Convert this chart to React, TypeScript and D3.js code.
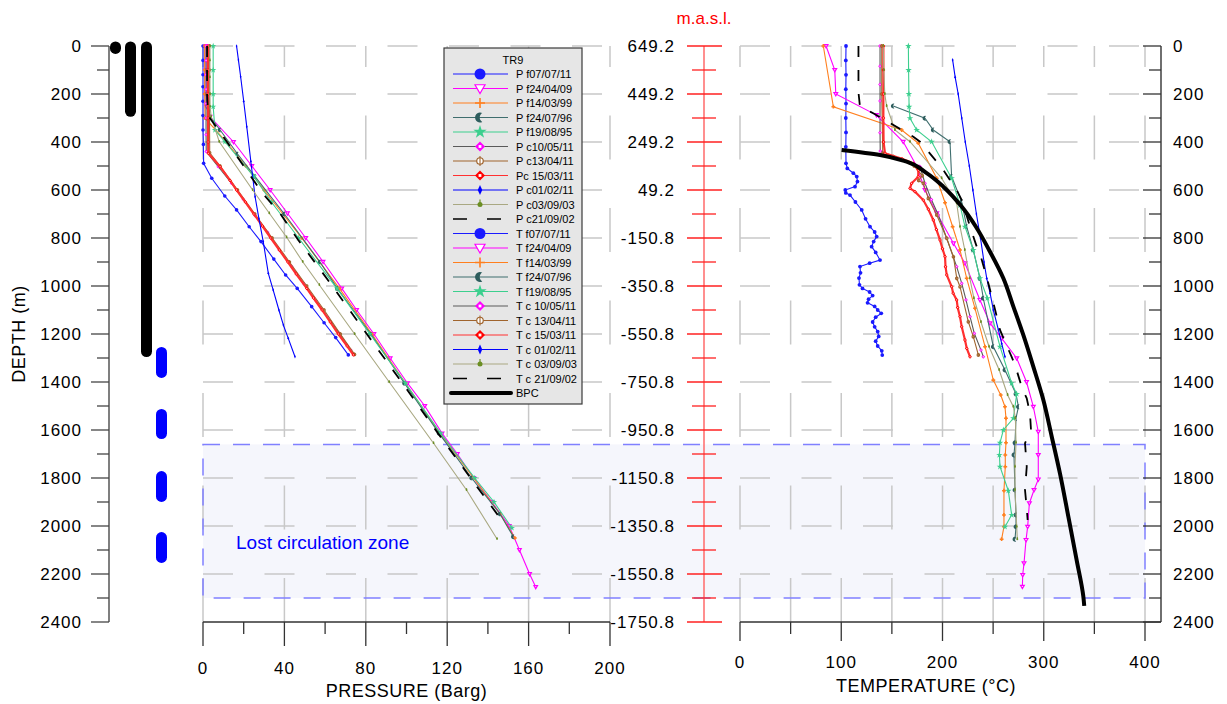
import React from 'react';
import * as d3 from 'd3';

type Pt = [number, number]; // [depth m, value]

// ---------- axes / ticks ----------
const depthTicks = [0, 200, 400, 600, 800, 1000, 1200, 1400, 1600, 1800, 2000, 2200, 2400];
const depthMinor = [100, 300, 500, 700, 900, 1100, 1300, 1500, 1700, 1900, 2100, 2300];
const elevLabels = ['649.2', '449.2', '249.2', '49.2', '-150.8', '-350.8', '-550.8', '-750.8', '-950.8', '-1150.8', '-1350.8', '-1550.8', '-1750.8'];
const pressureTicks = [0, 40, 80, 120, 160, 200];
const pressureMinor = [20, 60, 100, 140, 180];
const tempTicks = [0, 100, 200, 300, 400];
const tempMinor = [50, 150, 250, 350];
const tempGrid = [0, 50, 100, 150, 200, 250, 300, 350, 400];
const gridDepths = [0, 200, 400, 600, 800, 1000, 1200, 1400, 1600, 1800, 2000, 2200];

// ---------- well schematic ----------
const casingConductor: Pt = [0, 6];
const casingSurface: Pt = [0, 272];
const casingProduction: Pt = [0, 1273];
const linerSegments: Pt[] = [[1277, 1360], [1535, 1615], [1794, 1877], [2048, 2131]];
const lostZone: Pt = [1660, 2300];

// ---------- pressure profiles (depth, bar g) ----------
const pF070711: Pt[] = [[0, 0], [60, 0], [120, 0], [170, 0], [230, 0], [290, 0], [350, 0], [410, 0.2], [489, 0.3], [551, 4.3], [625, 10.7], [683, 16.5], [753, 22.7], [815, 28.5], [888, 34.8], [954, 40.6], [1010, 46.3], [1086, 53.4], [1153, 59.5], [1215, 65.2], [1287, 71.4]];
const pF240409: Pt[] = [[0, 1.5], [100, 1.5], [200, 1.6], [253, 1.8], [295, 3.5], [400, 15], [500, 24], [600, 33], [697, 41.5], [800, 50.5], [899, 59], [1010, 68.2], [1100, 75.5], [1200, 84], [1301, 92], [1405, 100.5], [1500, 109], [1614, 117.5], [1700, 125], [1800, 133], [1900, 142], [2000, 150.5], [2100, 155.5], [2200, 160.5], [2254, 163.5]];
const pF140399: Pt[] = [[0, 0.8], [100, 0.8], [200, 0.8], [301, 1], [400, 11.5], [500, 21], [600, 30], [800, 48.5], [1010, 67], [1200, 83], [1405, 99.5], [1614, 116.5], [1800, 133], [1950, 146], [2050, 153.3]];
const pF240796: Pt[] = [[294, 3.4], [350, 8.4], [450, 17], [544, 25.6], [700, 40], [900, 57.5], [1010, 66], [1200, 82.5], [1405, 99], [1614, 116], [1800, 132], [1950, 146], [2045, 152.5]];
const pF190895: Pt[] = [[0, 5], [100, 5], [200, 5], [253, 5], [350, 5.9], [399, 10.8], [544, 25], [651, 33.7], [800, 47], [1010, 65.8], [1200, 82], [1405, 99.5], [1614, 116.8], [1800, 133.5], [1900, 143], [2008, 151.8]];
const pC100511: Pt[] = [[0, 1.5], [60, 1.5], [120, 1.5], [180, 1.5], [240, 1.5], [300, 1.5], [370, 1.5], [440, 1.6], [503, 7.5], [572, 14], [639, 19.8], [707, 25.6], [776, 31.8], [850, 37.5], [919, 43.6], [990, 49.5], [1061, 55.5], [1130, 61.3], [1197, 67], [1267, 72.6], [1285, 74]];
const pC130411: Pt[] = [[0, 3.2], [100, 3.2], [200, 3.2], [300, 3.2], [445, 3.3], [500, 8.4], [600, 17], [700, 25.5], [800, 34], [900, 42.5], [1000, 51], [1100, 59.5], [1200, 67.5], [1285, 74.5]];
const pC150311: Pt[] = [[0, 2.5], [100, 2.5], [200, 2.5], [300, 2.5], [400, 2.5], [447, 2.6], [503, 8.4], [560, 13.3], [600, 16.5], [650, 20.8], [700, 25], [750, 29.2], [800, 33.3], [850, 37.5], [900, 41.7], [950, 45.8], [1010, 51], [1050, 54.3], [1100, 58.5], [1150, 62.5], [1200, 66.5], [1250, 70.8], [1287, 73.9]];
const pC010211: Pt[] = [[0, 16.5], [58, 17.4], [128, 18.5], [230, 20], [336, 21.5], [480, 23.5], [628, 25.6], [720, 27.5], [815, 29.6], [947, 32.1], [1017, 34.5], [1100, 37.3], [1163, 39.5], [1218, 41.9], [1295, 45.2]];
const pC030903: Pt[] = [[0, 3.4], [60, 3.4], [130, 3.4], [200, 3.4], [253, 3.5], [294, 4], [399, 8], [600, 24.4], [697, 32.6], [797, 41.1], [899, 49], [996, 57.2], [1200, 74.5], [1400, 91.5], [1655, 113.3], [1850, 129.5], [2054, 144.5]];
const pC210902: Pt[] = [[0, 2], [100, 2], [200, 2], [290, 2.5], [378, 10], [614, 29.3], [697, 37.8], [808, 46.8], [912, 55.9], [996, 63.2], [1200, 80.5], [1405, 98], [1614, 115.5], [1800, 131.5], [1990, 148]];

// ---------- temperature profiles (depth, degC) ----------
const tF070711: Pt[] = [[0, 104.7], [60, 104.5], [120, 104.7], [180, 104.5], [240, 104.7], [300, 104.5], [360, 104.7], [420, 104.5], [489, 104.7], [510, 106], [530, 112], [544, 115.3], [565, 116], [586, 113.6], [600, 104], [612, 104.5], [621, 108.6], [650, 114], [683, 120.2], [720, 124], [753, 128.4], [775, 133], [794, 135], [815, 132], [836, 130], [860, 134], [892, 138.3], [905, 128], [919, 118.5], [945, 119], [967, 117.5], [995, 118], [1010, 121], [1025, 128], [1040, 131], [1055, 127], [1070, 126], [1085, 133], [1100, 136], [1114, 139.5], [1130, 134], [1150, 131], [1170, 133], [1190, 136], [1210, 137], [1230, 134], [1250, 136], [1270, 140], [1288, 140.5]];
const tF240409: Pt[] = [[0, 85], [100, 93.6], [200, 94.6], [288, 134.8], [399, 161.2], [503, 174.8], [600, 182.7], [697, 194.3], [822, 210.8], [905, 222.2], [1058, 237], [1155, 246.9], [1218, 258.5], [1301, 273.3], [1400, 283], [1503, 289.7], [1607, 294.6], [1704, 294.6], [1806, 294.6], [1850, 290.4], [1905, 285.8], [2003, 284.1], [2058, 282.5], [2155, 280.5], [2204, 279.2], [2253, 278.9]];
const tF140399: Pt[] = [[0, 82.3], [253, 92.2], [350, 159.7], [405, 176.1], [551, 194.3], [653, 202.5], [753, 210], [850, 217.3], [968, 223.9], [1093, 232.1], [1253, 242], [1392, 250.2], [1454, 257.5], [1503, 261.7], [1551, 262.7], [1653, 262.7], [1704, 262], [1753, 262], [1853, 260.7], [1954, 260.7], [2003, 260.7], [2055, 258.4]];
const tF240796: Pt[] = [[250, 151.4], [301, 182.7], [350, 190.9], [399, 207.4], [544, 209], [649, 218.9], [753, 223.9], [850, 230.4], [968, 237], [1051, 240.3], [1253, 250.2], [1350, 261.7], [1450, 272.6], [1503, 275], [1551, 272.6], [1653, 271.6], [1704, 270.6], [1850, 271.6], [1954, 272.6], [2003, 272.6], [2055, 271.6]];
const tF190895: Pt[] = [[0, 166.3], [100, 166.5], [200, 166.8], [253, 167], [301, 167.9], [350, 174.5], [399, 189.3], [551, 209], [663, 217.3], [753, 222.2], [850, 230.4], [968, 237], [1051, 244.3], [1253, 256.8], [1405, 268.3], [1450, 273.3], [1551, 270], [1600, 260.1], [1653, 256.8], [1704, 256.2], [1753, 256.8], [1853, 265], [1954, 268.3], [2003, 261.7]];
const tC100511: Pt[] = [[0, 138.3], [84, 138.3], [160, 138.3], [229, 138.3], [299, 138.3], [361, 138.3], [438, 138.5], [503, 177.8], [572, 182.7], [640, 189], [704, 195.9], [800, 204], [919, 214], [989, 219], [1058, 223.2], [1128, 227.2], [1197, 231.4], [1267, 238], [1295, 240.3]];
const tC130411: Pt[] = [[0, 140], [200, 140], [447, 141], [461, 151.4], [500, 172], [540, 180], [560, 176.5], [572, 181], [635, 186], [704, 194.3], [801, 204.2], [878, 210.8], [968, 214.1], [1003, 217.3], [1149, 225.5], [1211, 230.4], [1287, 235.4]];
const tC150311: Pt[] = [[0, 141.6], [100, 141.6], [200, 141.6], [300, 141.6], [400, 141.8], [447, 143.2], [470, 160], [489, 171.2], [517, 176.1], [545, 176], [572, 169.5], [593, 167.9], [607, 172.8], [642, 181], [680, 186], [725, 190.9], [765, 194], [808, 197.5], [845, 200], [878, 202.5], [920, 203], [954, 204.2], [1003, 209.1], [1030, 210.5], [1058, 214], [1090, 215], [1128, 217.3], [1170, 219], [1225, 222.2], [1260, 224], [1295, 227.2]];
const tC010211: Pt[] = [[58, 210], [130, 212.5], [200, 215.5], [300, 219], [400, 222.5], [500, 226.5], [600, 230], [700, 233.5], [800, 237.5], [900, 241], [968, 243.7], [1030, 247], [1100, 250.2], [1183, 255.2], [1240, 258.5], [1295, 261.7]];
const tC030903: Pt[] = [[0, 141.5], [100, 142], [200, 143], [250, 144.8], [350, 153], [399, 167.9], [551, 199.2], [655, 214], [753, 217.3], [850, 222], [968, 227], [1051, 231], [1150, 238], [1253, 246], [1350, 256], [1454, 264.3], [1503, 270], [1551, 272], [1653, 272.6], [1753, 271.6], [1850, 271.6], [2003, 273.3], [2055, 273.9]];
const tC210902: Pt[] = [[0, 117], [100, 117], [193, 117], [253, 118.5], [280, 131.6], [378, 171.2], [399, 177.8], [482, 194.3], [517, 200.8], [600, 214], [642, 219], [750, 227], [836, 233.8], [864, 237], [1000, 246], [1100, 252], [1183, 256.8], [1232, 261.7], [1295, 268.3], [1329, 271.6], [1433, 279.2], [1468, 283.2], [1530, 286.4], [1600, 287.4], [1655, 281.5], [1753, 283.2], [1850, 281.5], [1926, 283.2], [1975, 284.1]];
const bpc: Pt[] = [[433, 100.4], [454, 138.3], [482, 164.6], [530, 184.4], [586, 200.8], [669, 218.9], [753, 233], [850, 246], [968, 260.1], [1086, 270], [1204, 279.8], [1336, 289.7], [1475, 299.6], [1628, 307.9], [1781, 316], [1961, 324.3], [2142, 332.5], [2294, 339.1], [2333, 340]];

const legendLabels = ['P f07/07/11', 'P f24/04/09', 'P f14/03/99', 'P f24/07/96', 'P f19/08/95', 'P c10/05/11', 'P c13/04/11', 'Pc 15/03/11', 'P c01/02/11', 'P c03/09/03', 'P c21/09/02',
  'T f07/07/11', 'T f24/04/09', 'T f14/03/99', 'T f24/07/96', 'T f19/08/95', 'T c 10/05/11', 'T c 13/04/11', 'T c 15/03/11', 'T c 01/02/11', 'T c 03/09/03', 'T c 21/09/02', 'BPC'];

// ---------- styles ----------
type Style = { color: string; mcolor?: string; marker: string; width?: number; dash?: string };
const runStyles: Style[] = [
  { color: '#1a1aff', marker: 'circle' },
  { color: '#ff00ff', marker: 'triDown' },
  { color: '#ff7f1e', marker: 'plus' },
  { color: '#3f6e6e', mcolor: '#2e5d5d', marker: 'crescent' },
  { color: '#3ccf8e', marker: 'star' },
  { color: '#5a5a5a', mcolor: '#ff00ff', marker: 'diamondHollow' },
  { color: '#a0642d', marker: 'circleCross' },
  { color: '#ff3030', mcolor: '#ff0000', marker: 'diamondHollow', width: 2.2 },
  { color: '#0000ff', marker: 'thinDiamond' },
  { color: '#a9a882', mcolor: '#6b8e23', marker: 'dotTick' },
  { color: '#000000', marker: 'none', width: 1.8, dash: '11,13' },
];
const pressureRuns = [pF070711, pF240409, pF140399, pF240796, pF190895, pC100511, pC130411, pC150311, pC010211, pC030903, pC210902];
const tempRuns = [tF070711, tF240409, tF140399, tF240796, tF190895, tC100511, tC130411, tC150311, tC010211, tC030903, tC210902];

const yD = d3.scaleLinear().domain([0, 2400]).range([46, 622]);
const xP = d3.scaleLinear().domain([0, 200]).range([203, 610]);
const xT = d3.scaleLinear().domain([0, 400]).range([740, 1145]);

const FONT = "'Liberation Sans', Arial, sans-serif";

function Marker({ type, x, y, s, color }: { type: string; x: number; y: number; s: number; color: string }) {
  switch (type) {
    case 'circle':
      return <circle cx={x} cy={y} r={s} fill={color} />;
    case 'triDown':
      return <path d={`M${x - s},${y - s * 0.75}L${x + s},${y - s * 0.75}L${x},${y + s}Z`} fill="#fff" stroke={color} strokeWidth={1.2} />;
    case 'plus':
      return <path d={`M${x - s},${y}H${x + s}M${x},${y - s}V${y + s}`} stroke={color} strokeWidth={1.6} />;
    case 'crescent':
      return <path d={`M${x + s * 0.45},${y - s * 0.9}A${s},${s} 0 1 0 ${x + s * 0.45},${y + s * 0.9}A${s * 1.05},${s * 1.05} 0 0 1 ${x + s * 0.45},${y - s * 0.9}Z`} fill={color} />;
    case 'star':
      return <path transform={`translate(${x},${y})`} d={d3.symbol(d3.symbolStar, s * s * 2.2)() || ''} fill={color} />;
    case 'diamondHollow':
      return (
        <g>
          <path d={`M${x},${y - s}L${x + s},${y}L${x},${y + s}L${x - s},${y}Z`} fill={color} />
          <rect x={x - s * 0.28} y={y - s * 0.28} width={s * 0.56} height={s * 0.56} fill="#fff" />
        </g>
      );
    case 'circleCross':
      return (
        <g>
          <circle cx={x} cy={y} r={s * 0.65} fill="#fff" stroke={color} strokeWidth={1.2} />
          <path d={`M${x},${y - s}V${y + s}`} stroke={color} strokeWidth={1.1} />
        </g>
      );
    case 'thinDiamond':
      return <path d={`M${x},${y - s}L${x + s * 0.45},${y}L${x},${y + s}L${x - s * 0.45},${y}Z`} fill={color} />;
    case 'dotTick':
      return (
        <g>
          <path d={`M${x},${y - s}V${y}`} stroke={color} strokeWidth={1.2} />
          <circle cx={x} cy={y} r={s * 0.5} fill={color} />
        </g>
      );
    default:
      return null;
  }
}

function Profile({ data, xs, st, ms }: { data: Pt[]; xs: d3.ScaleLinear<number, number>; st: Style; ms: number }) {
  const line = d3.line<Pt>().x((d) => xs(d[1])).y((d) => yD(d[0]));
  return (
    <g>
      <path d={line(data) || ''} fill="none" stroke={st.color} strokeWidth={st.width || 1.1} strokeDasharray={st.dash} />
      {st.marker !== 'none' && data.map((d, i) => (
        <Marker key={i} type={st.marker} x={xs(d[1])} y={yD(d[0])} s={st.marker === 'star' || st.marker === 'crescent' ? ms * 1.3 : ms} color={st.mcolor || st.color} />
      ))}
    </g>
  );
}

function Grid({ xs, vals, x0, x1 }: { xs: d3.ScaleLinear<number, number>; vals: number[]; x0: number; x1: number }) {
  return (
    <g stroke="#c8c8c8" strokeWidth={1.5}>
      {vals.map((v) => (
        <line key={'v' + v} x1={xs(v)} x2={xs(v)} y1={yD(2400)} y2={yD(0)} strokeDasharray="44,48.5" />
      ))}
      {gridDepths.map((d) => (
        <line key={'h' + d} x1={x0} x2={x1} y1={yD(d)} y2={yD(d)} strokeDasharray="30,31.5" />
      ))}
    </g>
  );
}

export default function App() {
  const lx0 = 444, ly0 = 48, lw = 138, lh = 356;
  const rowY = (i: number) => 74 + i * 14.5;
  const bpcLine = d3.line<Pt>().x((d) => xT(d[1])).y((d) => yD(d[0])).curve(d3.curveMonotoneY);
  const labelStyle = { fontFamily: FONT, fontSize: 17, letterSpacing: 1 } as React.CSSProperties;
  const titleStyle = { fontFamily: FONT, fontSize: 18, letterSpacing: 0.5 } as React.CSSProperties;

  return (
    <svg width={1227} height={704} style={{ position: 'absolute', left: 0, top: 0, background: '#fff' }}>
      {/* lost circulation zone fill */}
      <rect x={xP(0)} y={yD(lostZone[0])} width={xT(400) - xP(0)} height={yD(lostZone[1]) - yD(lostZone[0])} fill="#f5f6fc" />

      <Grid xs={xP} vals={pressureTicks} x0={xP(0)} x1={xP(200)} />
      <Grid xs={xT} vals={tempGrid} x0={xT(0)} x1={xT(400)} />

      <rect x={xP(0)} y={yD(lostZone[0])} width={xT(400) - xP(0)} height={yD(lostZone[1]) - yD(lostZone[0])} fill="none" stroke="#8080ff" strokeWidth={1.5} strokeDasharray="17,13" />
      <text x={236} y={542} fill="#0000ff" dominantBaseline="central" style={{ fontFamily: FONT, fontSize: 19 }}>Lost circulation zone</text>

      {/* left depth axis */}
      <line x1={109} x2={109} y1={yD(0)} y2={yD(2400)} stroke="#555" strokeWidth={1.5} />
      {depthTicks.map((d) => (
        <g key={'ld' + d}>
          <line x1={91} x2={109} y1={yD(d)} y2={yD(d)} stroke="#444" strokeWidth={1.3} />
          <text x={82} y={yD(d)} textAnchor="end" dominantBaseline="central" style={labelStyle}>{d}</text>
        </g>
      ))}
      {depthMinor.map((d) => (
        <line key={'lm' + d} x1={97} x2={109} y1={yD(d)} y2={yD(d)} stroke="#444" strokeWidth={1.3} />
      ))}
      <text transform={`translate(19,334) rotate(-90)`} textAnchor="middle" dominantBaseline="central" style={titleStyle}>DEPTH (m)</text>

      {/* well schematic */}
      <g stroke="#000" strokeWidth={11} strokeLinecap="round">
        <line x1={115.5} x2={115.5} y1={yD(casingConductor[0]) + 1} y2={yD(casingConductor[1]) + 1} />
        <line x1={130.5} x2={130.5} y1={yD(casingSurface[0]) + 1} y2={yD(casingSurface[1])} />
        <line x1={146.5} x2={146.5} y1={yD(casingProduction[0]) + 1} y2={yD(casingProduction[1])} />
      </g>
      <g stroke="#0000ff" strokeWidth={11} strokeLinecap="round">
        {linerSegments.map((s, i) => (
          <line key={i} x1={161.5} x2={161.5} y1={yD(s[0])} y2={yD(s[1])} />
        ))}
      </g>

      {/* pressure bottom axis */}
      <line x1={xP(0)} x2={xP(200)} y1={622} y2={622} stroke="#333" strokeWidth={1.3} />
      {pressureTicks.map((p) => (
        <g key={'pt' + p}>
          <line x1={xP(p)} x2={xP(p)} y1={622} y2={646} stroke="#333" strokeWidth={1.3} />
          <text x={xP(p)} y={668} textAnchor="middle" dominantBaseline="central" style={labelStyle}>{p}</text>
        </g>
      ))}
      {pressureMinor.map((p) => (
        <line key={'pm' + p} x1={xP(p)} x2={xP(p)} y1={622} y2={634} stroke="#333" strokeWidth={1.3} />
      ))}
      <text x={xP(100)} y={691} textAnchor="middle" dominantBaseline="central" style={titleStyle}>PRESSURE (Barg)</text>

      {/* elevation axis */}
      <line x1={704} x2={704} y1={yD(0)} y2={yD(2400)} stroke="#ff6a6a" strokeWidth={1.5} />
      {depthTicks.map((d, i) => (
        <g key={'el' + d}>
          <line x1={687} x2={722} y1={yD(d)} y2={yD(d)} stroke="#ff2020" strokeWidth={1.3} />
          <text x={675} y={yD(d)} textAnchor="end" dominantBaseline="central" style={labelStyle}>{elevLabels[i]}</text>
        </g>
      ))}
      {depthMinor.map((d) => (
        <line key={'em' + d} x1={692} x2={716} y1={yD(d)} y2={yD(d)} stroke="#ff2020" strokeWidth={1.3} />
      ))}
      <text x={704} y={18} textAnchor="middle" dominantBaseline="central" fill="#ff0000" style={{ fontFamily: FONT, fontSize: 17 }}>m.a.s.l.</text>

      {/* temperature axes */}
      <line x1={xT(0)} x2={1161} y1={622} y2={622} stroke="#333" strokeWidth={1.3} />
      <line x1={1161} x2={1161} y1={yD(0)} y2={622} stroke="#222" strokeWidth={1.3} />
      {tempTicks.map((t) => (
        <g key={'tt' + t}>
          <line x1={xT(t)} x2={xT(t)} y1={622} y2={641} stroke="#333" strokeWidth={1.3} />
          <text x={xT(t)} y={662} textAnchor="middle" dominantBaseline="central" style={labelStyle}>{t}</text>
        </g>
      ))}
      {tempMinor.map((t) => (
        <line key={'tm' + t} x1={xT(t)} x2={xT(t)} y1={622} y2={634} stroke="#333" strokeWidth={1.3} />
      ))}
      <text x={926} y={686} textAnchor="middle" dominantBaseline="central" style={titleStyle}>TEMPERATURE (°C)</text>
      {depthTicks.map((d) => (
        <g key={'rd' + d}>
          <line x1={1143} x2={1161} y1={yD(d)} y2={yD(d)} stroke="#333" strokeWidth={1.3} />
          <text x={1173} y={yD(d)} dominantBaseline="central" style={labelStyle}>{d}</text>
        </g>
      ))}
      {depthMinor.map((d) => (
        <line key={'rm' + d} x1={1149} x2={1161} y1={yD(d)} y2={yD(d)} stroke="#333" strokeWidth={1.3} />
      ))}

      {/* profiles */}
      {pressureRuns.map((r, i) => (
        <Profile key={'p' + i} data={r} xs={xP} st={runStyles[i]} ms={1.8} />
      ))}
      {tempRuns.map((r, i) => (
        <Profile key={'t' + i} data={r} xs={xT} st={runStyles[i]} ms={1.9} />
      ))}
      <path d={bpcLine(bpc) || ''} fill="none" stroke="#000" strokeWidth={4} />

      {/* legend */}
      <rect x={lx0} y={ly0} width={lw} height={lh} fill="#e6e6e6" stroke="#3a3a3a" strokeWidth={1.2} />
      <text x={513} y={60} textAnchor="middle" dominantBaseline="central" style={{ fontFamily: FONT, fontSize: 11 }}>TR9</text>
      {legendLabels.map((lab, i) => {
        const y = rowY(i);
        if (lab === 'BPC') {
          return (
            <g key={lab}>
              <line x1={451} x2={511} y1={y} y2={y} stroke="#000" strokeWidth={4} strokeLinecap="round" />
              <text x={516} y={y} dominantBaseline="central" style={{ fontFamily: FONT, fontSize: 11 }}>{lab}</text>
            </g>
          );
        }
        const st = runStyles[i % 11];
        return (
          <g key={lab}>
            <line x1={453} x2={508} y1={y} y2={y} stroke={st.color} strokeWidth={st.dash ? 1.6 : 1.2} strokeDasharray={st.dash ? '14,20' : undefined} />
            <Marker type={st.marker} x={480} y={y} s={st.marker === 'circle' ? 5.5 : 5} color={st.mcolor || st.color} />
            <text x={516} y={y} dominantBaseline="central" style={{ fontFamily: FONT, fontSize: 11 }}>{lab}</text>
          </g>
        );
      })}
    </svg>
  );
}
